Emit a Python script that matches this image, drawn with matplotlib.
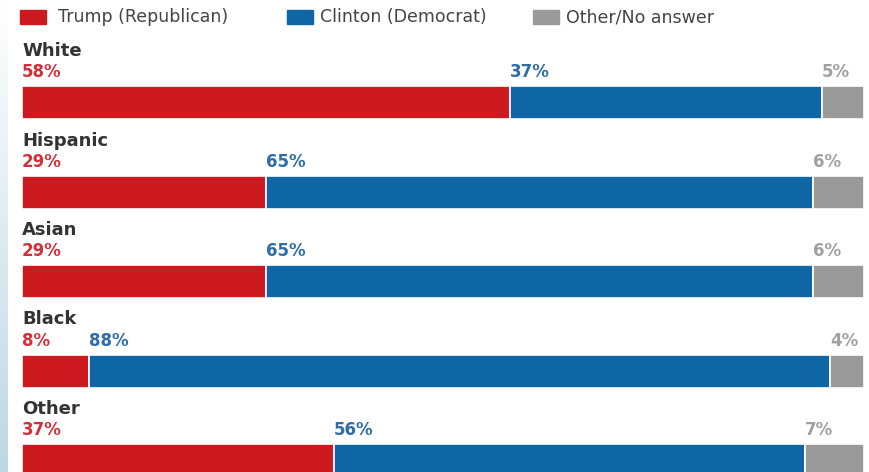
import numpy as np
import matplotlib
matplotlib.use("Agg")
import matplotlib.pyplot as plt
from matplotlib.patches import Rectangle

# Exit poll shares by race (percent)
groups = ["White", "Hispanic", "Asian", "Black", "Other"]
trump = [58, 29, 29, 8, 37]
clinton = [37, 65, 65, 88, 56]
other = [5, 6, 6, 4, 7]

series_names = ["Trump (Republican)", "Clinton (Democrat)", "Other/No answer"]
bar_colors = ["#cc1a20", "#0e66a5", "#9a9a9a"]
label_colors = ["#d0313b", "#2f6da6", "#a0a0a0"]

W, H = 870, 472
plt.rcParams['font.family'] = ['DejaVu Sans']

fig = plt.figure(figsize=(W / 100, H / 100), dpi=100)
fig.patch.set_facecolor("white")

# faint gradient strip on the left edge (white at top, light blue at bottom)
strip = fig.add_axes([0, 0, 8 / W, 1])
grad = np.linspace(0, 1, 256).reshape(-1, 1)
edge_cmap = matplotlib.colors.LinearSegmentedColormap.from_list(
    "edge", ["#ffffff", "#bcd8e4"])
strip.imshow(grad, aspect="auto", cmap=edge_cmap, origin="upper",
             extent=[0, 1, 0, 1])
strip.axis("off")

# bar area: x 0-100 maps to pixels 22..864
ax = fig.add_axes([22 / W, 0, 842 / W, 1])
step = 89.5
first = 102.5
ax.set_xlim(0, 100)
ax.set_ylim((H - first) / step, -first / step)
ax.axis("off")

y = np.arange(len(groups))
h = 33 / step
left = np.zeros(len(groups))
for vals, col, lcol in zip([trump, clinton, other], bar_colors, label_colors):
    vals = np.array(vals, dtype=float)
    ax.barh(y, vals, left=left, height=h, color=col, edgecolor="white",
            linewidth=1.2, clip_on=False)
    for yi, l, v in zip(y, left, vals):
        ax.text(l, yi - 30.5 / step, f"{int(v)}%", color=lcol, fontsize=12,
                fontweight="bold", ha="left", va="center")
    left += vals

for yi, g in zip(y, groups):
    ax.text(0, yi - 51.5 / step, g, color="#333333", fontsize=13,
            fontweight="bold", ha="left", va="center")

# legend row at the top
swatch_x = [20, 287, 533]
text_x = [58, 320, 566]
for sx, tx, name, col in zip(swatch_x, text_x, series_names, bar_colors):
    fig.patches.append(Rectangle((sx / W, 1 - 24 / H), 26 / W, 14 / H,
                                 transform=fig.transFigure, color=col))
    fig.text(tx / W, 1 - 17 / H, name, color="#444444", fontsize=12.5,
             ha="left", va="center")

fig.savefig("out.png", dpi=100)
